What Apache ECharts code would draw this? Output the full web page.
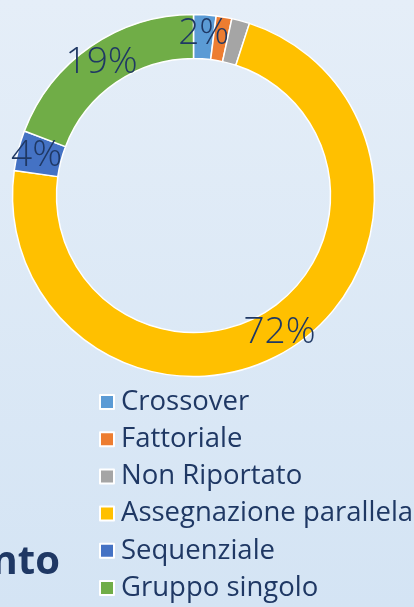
<!DOCTYPE html>
<html>
<head>
<meta charset="utf-8">
<script src="https://cdn.jsdelivr.net/npm/echarts@6/dist/echarts.min.js"></script>
<style>
html,body{margin:0;padding:0;}
#c{width:414px;height:607px;background:linear-gradient(to bottom,#E5EEF8 0%,#D4E4F4 100%);}
</style>
</head>
<body>
<div id="c"></div>
<script>
var categories = ['Crossover', 'Fattoriale', 'Non Riportato', 'Assegnazione parallela', 'Sequenziale', 'Gruppo singolo'];
var values = [2, 1.4, 1.6, 72.2, 3.6, 19.2];
var percentLabels = ['2%', '', '', '72%', '4%', '19%'];
var colors = ['#5B9BD5', '#ED7D31', '#A5A5A5', '#FFC000', '#4472C4', '#70AD47'];

var chart = echarts.init(document.getElementById('c'), null, {renderer: 'canvas'});
var data = categories.map(function (c, i) {
  return {name: c, value: values[i], itemStyle: {color: colors[i]}};
});
chart.setOption({
  backgroundColor: 'transparent',
  animation: false,
  legend: {
    orient: 'vertical',
    left: 99,
    top: 388,
    padding: 0,
    height: 240,
    icon: 'rect',
    itemWidth: 14,
    itemHeight: 14,
    itemGap: 9.2,
    data: categories,
    textStyle: {
      color: '#1F3864',
      fontSize: 27.5,
      fontFamily: 'Open Sans',
      padding: [0, 0, 0, 2]
    }
  },
  graphic: [{
    type: 'text',
    right: 354,
    top: 543,
    style: {
      text: 'nto',
      fill: '#1F3864',
      font: 'bold 40px "Open Sans"'
    }
  }],
  series: [{
    type: 'pie',
    center: [193.5, 195.5],
    radius: [137, 181],
    startAngle: 90,
    clockwise: true,
    avoidLabelOverlap: false,
    itemStyle: {borderColor: '#FFFFFF', borderWidth: 1.5},
    label: {
      show: true,
      position: 'inside',
      formatter: function (p) { return percentLabels[p.dataIndex]; },
      color: '#1F3864',
      fontSize: 37,
      fontFamily: 'Open Sans',
      fontWeight: 300
    },
    labelLine: {show: false},
    emphasis: {disabled: true},
    data: data
  }]
});
</script>
</body>
</html>
